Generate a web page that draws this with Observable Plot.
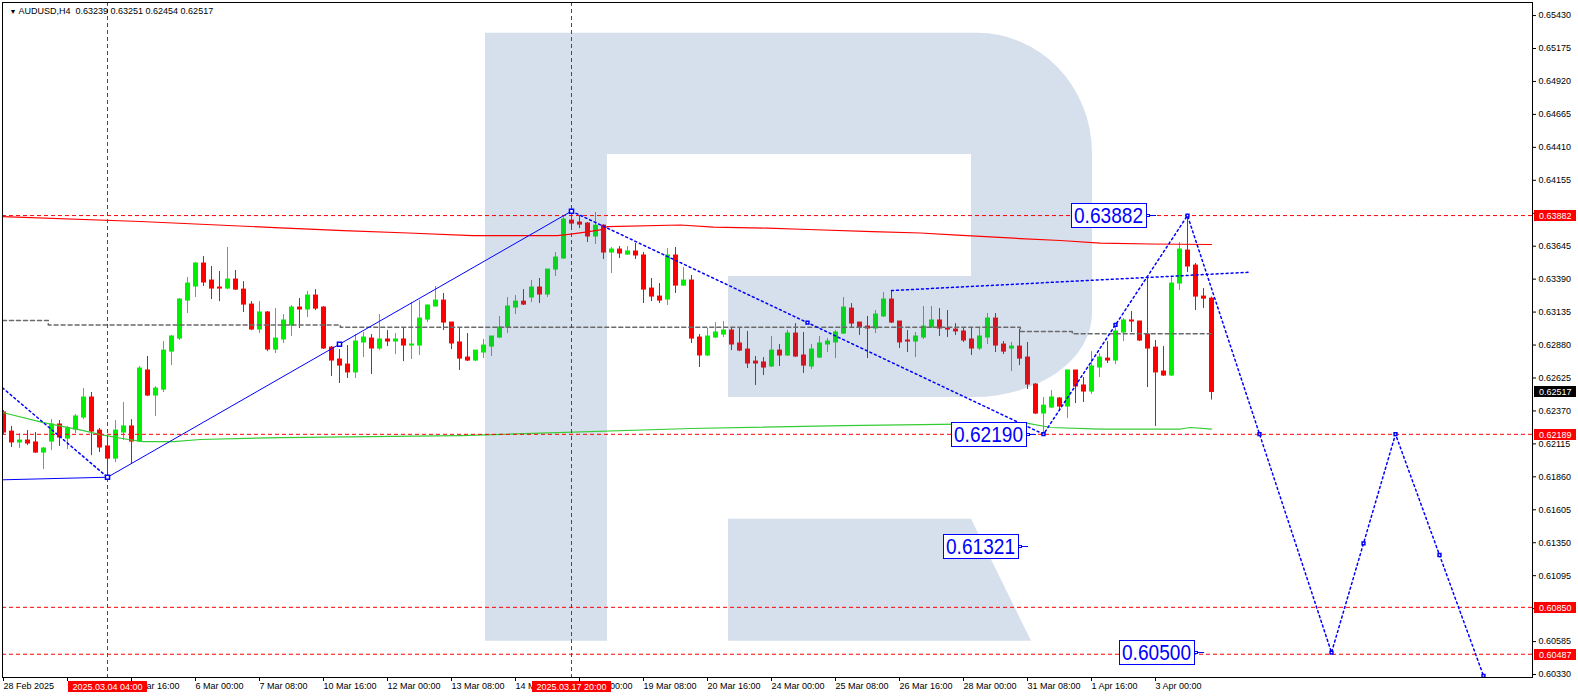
<!DOCTYPE html>
<html><head><meta charset="utf-8">
<script src="https://cdn.jsdelivr.net/npm/d3@7"></script>
<script src="https://cdn.jsdelivr.net/npm/@observablehq/plot@0.6"></script>
<style>body{margin:0;background:#fff} svg{display:block}</style>
</head><body><div id="chart"></div>
<script>
// ---- Candles (AUDUSD H4, bar index 0 = 28 Feb 2025 00:00) ----
const opens = [0.62358,0.62210,0.62126,0.62141,0.62126,0.62048,0.62133,0.62265,0.62156,0.62226,
0.62319,0.62474,0.62218,0.62095,0.62001,0.62203,0.62250,0.62133,0.62683,0.62489,
0.62535,0.62829,0.62930,0.63224,0.63333,0.63511,0.63379,0.63325,0.63317,0.63387,
0.63309,0.63193,0.63000,0.63132,0.62845,0.62923,0.63031,0.63170,0.63155,0.63263,
0.63170,0.62860,0.62768,0.62729,0.62668,0.62900,0.62930,0.62853,0.62923,0.62907,
0.62923,0.62876,0.62876,0.63077,0.63178,0.63224,0.63054,0.62900,0.62783,0.62760,
0.62822,0.62868,0.62938,0.63015,0.63170,0.63216,0.63248,0.63325,0.63271,0.63464,
0.63550,0.63843,0.63828,0.63820,0.63720,0.63804,0.63596,0.63619,0.63580,0.63604,
0.63573,0.63317,0.63255,0.63232,0.63573,0.63340,0.63379,0.62938,0.62799,0.62938,
0.62961,0.62992,0.62892,0.62845,0.62752,0.62745,0.62714,0.62837,0.62799,0.62969,
0.62799,0.62714,0.62783,0.62884,0.62900,0.62969,0.63162,0.63054,0.63023,0.63008,
0.63101,0.63232,0.63062,0.62915,0.62907,0.62938,0.63015,0.63070,0.63008,0.63000,
0.62985,0.62923,0.62853,0.62938,0.63085,0.62884,0.62853,0.62868,0.62783,0.62574,
0.62350,0.62396,0.62466,0.62404,0.62683,0.62567,0.62520,0.62706,0.62775,0.62760,
0.62977,0.63070,0.63062,0.62961,0.62860,0.62675,0.62644,0.63356,0.63611,0.63495,
0.63255,0.63239];
const highs = [0.62373,0.62250,0.62195,0.62218,0.62203,0.62087,0.62303,0.62296,0.62250,0.62342,
0.62543,0.62513,0.62234,0.62179,0.62296,0.62435,0.62303,0.62714,0.62791,0.62559,
0.62907,0.62954,0.63240,0.63403,0.63519,0.63565,0.63488,0.63449,0.63635,0.63457,
0.63371,0.63216,0.63216,0.63139,0.63162,0.63116,0.63186,0.63240,0.63294,0.63309,
0.63178,0.62868,0.62845,0.62876,0.62961,0.62977,0.62961,0.63116,0.62992,0.62969,
0.63008,0.63209,0.63224,0.63186,0.63333,0.63279,0.63054,0.63015,0.62969,0.62837,
0.62923,0.62946,0.63101,0.63248,0.63263,0.63309,0.63379,0.63395,0.63464,0.63596,
0.63882,0.63913,0.63874,0.63828,0.63905,0.63812,0.63635,0.63642,0.63642,0.63666,
0.63596,0.63395,0.63356,0.63627,0.63635,0.63480,0.63418,0.62961,0.63008,0.63054,
0.63062,0.63015,0.63008,0.62985,0.62791,0.62783,0.62946,0.62884,0.62992,0.63046,
0.62977,0.62884,0.62946,0.62930,0.62992,0.63248,0.63201,0.63054,0.63101,0.63147,
0.63286,0.63302,0.63062,0.62992,0.62977,0.63178,0.63178,0.63162,0.63147,0.63046,
0.63015,0.63008,0.63008,0.63124,0.63124,0.62907,0.62900,0.63000,0.62900,0.62582,
0.62474,0.62528,0.62474,0.62683,0.62683,0.62629,0.62829,0.62814,0.62907,0.63015,
0.63085,0.63139,0.63062,0.63403,0.62915,0.62868,0.63403,0.63673,0.63882,0.63511,
0.63317,0.63251];
const lows = [0.62187,0.62087,0.62079,0.62102,0.62040,0.61916,0.62063,0.62095,0.62071,0.62195,
0.62303,0.62024,0.62048,0.61855,0.61971,0.62141,0.61963,0.62126,0.62481,0.62327,
0.62513,0.62721,0.62915,0.63124,0.63248,0.63333,0.63232,0.63216,0.63309,0.63302,
0.63132,0.62992,0.62969,0.62829,0.62814,0.62892,0.62946,0.63008,0.63093,0.63147,
0.62845,0.62637,0.62582,0.62621,0.62621,0.62783,0.62652,0.62837,0.62868,0.62806,
0.62752,0.62768,0.62799,0.63054,0.63178,0.62992,0.62845,0.62683,0.62752,0.62752,
0.62775,0.62791,0.62930,0.62969,0.63116,0.63186,0.63209,0.63201,0.63248,0.63410,
0.63542,0.63781,0.63781,0.63673,0.63658,0.63542,0.63434,0.63550,0.63573,0.63542,
0.63201,0.63216,0.63201,0.63186,0.63279,0.63333,0.62892,0.62706,0.62791,0.62930,
0.62938,0.62837,0.62829,0.62698,0.62567,0.62644,0.62706,0.62714,0.62791,0.62783,
0.62660,0.62691,0.62775,0.62822,0.62775,0.62961,0.63015,0.62954,0.62775,0.62969,
0.63093,0.63046,0.62853,0.62822,0.62783,0.62923,0.63008,0.62946,0.62938,0.62954,
0.62900,0.62799,0.62837,0.62884,0.62822,0.62806,0.62675,0.62721,0.62536,0.62342,
0.62190,0.62388,0.62365,0.62311,0.62427,0.62435,0.62497,0.62629,0.62737,0.62729,
0.62907,0.62977,0.62907,0.62551,0.62250,0.62637,0.62637,0.63302,0.63441,0.63147,
0.63162,0.62454];
const closes = [0.62203,0.62126,0.62141,0.62118,0.62048,0.62079,0.62265,0.62164,0.62234,0.62327,
0.62474,0.62210,0.62087,0.62001,0.62218,0.62250,0.62133,0.62698,0.62489,0.62543,
0.62837,0.62946,0.63232,0.63356,0.63511,0.63364,0.63317,0.63317,0.63387,0.63309,
0.63193,0.63000,0.63132,0.62845,0.62930,0.63070,0.63170,0.63155,0.63263,0.63162,
0.62853,0.62760,0.62721,0.62668,0.62907,0.62938,0.62853,0.62923,0.62907,0.62923,
0.62876,0.62884,0.63085,0.63186,0.63224,0.63054,0.62892,0.62775,0.62760,0.62837,
0.62876,0.62946,0.63015,0.63178,0.63216,0.63193,0.63325,0.63271,0.63464,0.63557,
0.63851,0.63820,0.63812,0.63720,0.63804,0.63596,0.63619,0.63588,0.63604,0.63573,
0.63309,0.63255,0.63224,0.63573,0.63340,0.63379,0.62930,0.62799,0.62946,0.62977,
0.62992,0.62884,0.62837,0.62737,0.62737,0.62706,0.62837,0.62799,0.62969,0.62791,
0.62721,0.62845,0.62892,0.62907,0.62977,0.63170,0.63046,0.63015,0.63008,0.63116,
0.63232,0.63054,0.62900,0.62907,0.62946,0.63023,0.63070,0.63008,0.63000,0.62985,
0.62915,0.62853,0.62946,0.63085,0.62876,0.62829,0.62868,0.62775,0.62574,0.62350,
0.62411,0.62474,0.62404,0.62683,0.62559,0.62520,0.62714,0.62783,0.62760,0.62985,
0.63070,0.63062,0.62915,0.62853,0.62668,0.62644,0.63356,0.63619,0.63488,0.63255,
0.63239,0.62517];

// ---- Axis ticks ----
const xTickIndex = [0,8,16,24,32,40,48,56,64,72,80,88,96,104,112,120,128,136,144];
const xTickLabels = ["28 Feb 2025","","4 Mar 16:00","6 Mar 00:00","7 Mar 08:00","10 Mar 16:00",
 "12 Mar 00:00","13 Mar 08:00","14 Mar 16:00","18 Mar 00:00","19 Mar 08:00","20 Mar 16:00","24 Mar 00:00",
 "25 Mar 08:00","26 Mar 16:00","28 Mar 00:00","31 Mar 08:00","1 Apr 16:00","3 Apr 00:00"];
const yTicks = [0.65430,0.65175,0.64920,0.64665,0.64410,0.64155,0.63900,0.63645,0.63390,0.63135,0.62880,
 0.62625,0.62370,0.62115,0.61860,0.61605,0.61350,0.61095,0.60840,0.60585,0.60330];

// ---- Indicator lines [bar index, price] ----
const redMA = [[-0.125,0.63874],[17.1,0.63836],[34.6,0.63787],[42.5,0.63766],[50.6,0.63747],[58.6,0.63727],
 [69.25,0.63727],[70.9,0.63739],[72.75,0.63754],[74.6,0.63771],[75.5,0.63797],[84.6,0.63809],[88.75,0.63793],
 [95.5,0.63785],[100.6,0.63774],[108.6,0.63758],[114.6,0.63747],[119.25,0.63731],[127.1,0.63704],
 [132.1,0.63689],[137.1,0.63669],[143.4,0.63662],[151,0.63658]];
const greenMA = [[-0.125,0.62358],[5,0.62280],[10,0.62218],[12.1,0.62187],[15.6,0.62149],[17.5,0.62133],
 [21.25,0.62133],[24.6,0.62149],[34.6,0.62164],[57.1,0.62179],[85.9,0.62234],[105,0.62257],[127.9,0.62275],
 [130.9,0.62242],[137.1,0.62230],[147.1,0.62230],[148.4,0.62242],[151,0.62230]];
const greyLevel = [[-0.125,0.63070],[5.6,0.63070],[5.6,0.63036],[42.1,0.63036],[42.1,0.63018],[127.1,0.63018],
 [127.1,0.62984],[133.6,0.62984],[133.6,0.62967],[151,0.62967]];

// ---- Drawing objects ----
const hLevels = [0.63882, 0.62189, 0.60850, 0.60487];
const vLines = [13, 71];
const zigzag = [[-0.125,0.61837],[13,0.61857],[71,0.63916]];
const zigzagMarks = [[13,0.61857],[42,0.628865],[71,0.63916]];
const dottedLeft = [[-0.125,0.62549],[13,0.61857]];
const projection = [[71,0.63916],[130,0.62190],[148,0.63882],[166,0.60500],[174,0.62190],[185,0.60320]];
const projectionMarks = [[100.5,0.63053],[130,0.62190],[139,0.63036],[148,0.63882],[157,0.62191],
 [166,0.60500],[170,0.61345],[174,0.62190],[179.5,0.61255],[185,0.60320]];
const trendHighs = [[111,0.63302],[143,0.63403],[155.6,0.63443]];
const boxLabels = [
 {text:"0.63882", i:144, price:0.63882},
 {text:"0.62190", i:129, price:0.62190},
 {text:"0.61321", i:128, price:0.61321},
 {text:"0.60500", i:150, price:0.60500}];
const axisTags = [
 {price:0.63882, text:"0.63882", bg:"#ff0000"},
 {price:0.62517, text:"0.62517", bg:"#000000"},
 {price:0.62189, text:"0.62189", bg:"#ff0000"},
 {price:0.60850, text:"0.60850", bg:"#ff0000"},
 {price:0.60487, text:"0.60487", bg:"#ff0000"}];
const dateTags = [{i:13, text:"2025.03.04 04:00"},{i:71, text:"2025.03.17 20:00"}];
const title = "AUDUSD,H4  0.63239 0.63251 0.62454 0.62517";
// watermark outline in [bar index, price]; "A" = quarter arc
const logoPath = [
 ["M",60.25,0.65293],["L",121.75,0.65293],["A",136.125,0.64362],["L",136.125,0.63124],
 ["A",121.25,0.62474],["L",90.625,0.62474],["L",90.625,0.63410],["L",121.0,0.63410],
 ["L",121.0,0.64354],["L",75.5,0.64354],["L",75.5,0.60588],["L",60.25,0.60588],["Z"],
 ["M",90.625,0.61532],["L",121.0,0.61532],["L",128.5,0.60588],["L",90.625,0.60588],["Z"]];

const candles = opens.map((o, i) => ({i, open: o, high: highs[i], low: lows[i], close: closes[i]}));
const GREEN = "#00ee00", RED = "#ff0000", BLUE = "#0000ff";
const FONT = "'Liberation Sans', Arial, sans-serif";
const col = d => d.close > d.open ? GREEN : RED;

function logoMark(index, {x, y}) {
  let d = "", px = 0, py = 0;
  for (const c of logoPath) {
    if (c[0] === "Z") { d += "Z"; continue; }
    const X = x(c[1]), Y = y(c[2]);
    if (c[0] === "A") d += `A${Math.abs(X - px)},${Math.abs(Y - py)} 0 0 1 ${X},${Y}`;
    else d += `${c[0]}${X},${Y}`;
    px = X; py = Y;
  }
  const p = document.createElementNS("http://www.w3.org/2000/svg", "path");
  p.setAttribute("d", d); p.setAttribute("fill", "#3464a2"); p.setAttribute("fill-opacity", "0.2");
  return p;
}
function boxLabelMark(index, {x, y}) {
  const g = d3.create("svg:g");
  for (const b of boxLabels) {
    const ax = Math.round(x(b.i)), ay = Math.round(y(b.price));
    const right = ax - 9;
    g.append("line").attr("x1", right).attr("x2", ax + 1).attr("y1", ay + 0.5).attr("y2", ay + 0.5).attr("stroke", BLUE);
    g.append("rect").attr("x", right - 75 + 0.5).attr("y", ay - 12 + 0.5).attr("width", 75).attr("height", 24)
      .attr("fill", "white").attr("stroke", BLUE);
    g.append("rect").attr("x", right + 0.5).attr("y", ay - 1 + 0.5).attr("width", 3).attr("height", 2)
      .attr("fill", "white").attr("stroke", BLUE);
    g.append("text").attr("x", right - 72).attr("y", ay + 8).attr("font-size", 22).attr("font-family", FONT)
      .attr("text-anchor", "start").attr("fill", BLUE)
      .attr("textLength", 69).attr("lengthAdjust", "spacingAndGlyphs").text(b.text);
  }
  return g.node();
}
function axisTagMark(index, {x, y}, values, dims) {
  const g = d3.create("svg:g");
  const left = dims.width - dims.marginRight + 2;
  for (const t of axisTags) {
    const ty = Math.round(y(t.price));
    g.append("rect").attr("x", left).attr("y", ty - 5).attr("width", 42).attr("height", 11).attr("fill", t.bg);
    g.append("text").attr("x", left + 5).attr("y", ty + 3.5).attr("font-size", 9).attr("font-family", FONT)
      .attr("text-anchor", "start").attr("fill", "white").text(t.text);
  }
  return g.node();
}
function dateTagMark(index, {x, y}, values, dims) {
  const g = d3.create("svg:g");
  const top = dims.height - dims.marginBottom + 4;
  for (const t of dateTags) {
    const tx = Math.round(x(t.i));
    g.append("rect").attr("x", tx - 39).attr("y", top).attr("width", 79).attr("height", 11).attr("fill", "#ff0000");
    g.append("text").attr("x", tx + 0.5).attr("y", top + 8.5).attr("text-anchor", "middle").attr("font-size", 9)
      .attr("font-family", FONT).attr("fill", "white").text(t.text);
  }
  return g.node();
}

const chart = Plot.plot({
  width: 1578, height: 698,
  marginTop: 2, marginLeft: 2, marginRight: 46, marginBottom: 21,
  style: {fontFamily: FONT, fontSize: "9px", background: "white", color: "black"},
  x: {type: "linear", domain: [-0.125, 191.125], axis: null},
  y: {type: "linear", domain: [0.60307, 0.65531], axis: null},
  marks: [
    Plot.ruleX(candles, {x: "i", y1: "high", y2: "low", stroke: col, strokeWidth: 1, clip: true}),
    Plot.ruleX(candles, {x: "i", y1: d => Math.max(d.open, d.close), y2: d => Math.min(d.open, d.close),
      stroke: col, strokeWidth: 5, insetTop: -0.5, insetBottom: -0.5, clip: true}),
    logoMark,
    Plot.line(redMA, {x: d => d[0], y: d => d[1], stroke: "#ff0000", strokeWidth: 1.2, clip: true}),
    Plot.line(greenMA, {x: d => d[0], y: d => d[1], stroke: "#33cc33", strokeWidth: 1.2, clip: true}),
    Plot.line(greyLevel, {x: d => d[0], y: d => d[1], stroke: "#6a6a6a", strokeDasharray: "4,3", clip: true}),
    Plot.ruleY(hLevels, {stroke: "#ff0000", strokeDasharray: "4,3"}),
    Plot.ruleX(vLines, {stroke: "#ff0000", strokeDasharray: "4,3"}),
    Plot.line(zigzag, {x: d => d[0], y: d => d[1], stroke: BLUE, strokeWidth: 1, clip: true}),
    Plot.line(dottedLeft, {x: d => d[0], y: d => d[1], stroke: BLUE, strokeDasharray: "2,3", clip: true}),
    Plot.line(projection, {x: d => d[0], y: d => d[1], stroke: BLUE, strokeDasharray: "2,3", clip: true}),
    Plot.line(trendHighs, {x: d => d[0], y: d => d[1], stroke: BLUE, strokeDasharray: "2,3", clip: true}),
    Plot.dot(zigzagMarks, {x: d => d[0], y: d => d[1], symbol: "square", r: 2.3, stroke: BLUE, fill: "white"}),
    Plot.dot(projectionMarks, {x: d => d[0], y: d => d[1], symbol: "square", r: 1.6, stroke: BLUE, fill: "white", clip: true}),
    boxLabelMark,
    Plot.frame({stroke: "black"}),
    Plot.axisY({anchor: "right", ticks: yTicks, tickFormat: d3.format(".5f"), tickSize: 3, tickPadding: 3,
      fontSize: 9, label: null}),
    Plot.axisX({anchor: "bottom", ticks: xTickIndex, tickFormat: i => xTickLabels[xTickIndex.indexOf(i)],
      tickSize: 4, tickPadding: 1, textAnchor: "start", fontSize: 9, label: null}),
    axisTagMark,
    dateTagMark,
    Plot.text([title], {text: d => d, frameAnchor: "top-left", dx: 16, dy: 9, textAnchor: "start",
      lineAnchor: "middle", fontSize: 9, fill: "black"}),
    Plot.text(["\u25BC"], {text: d => d, frameAnchor: "top-left", dx: 7, dy: 9, lineAnchor: "middle",
      fontSize: 7, fill: "black"})
  ]
});
document.getElementById("chart").append(chart);
</script>
</body></html>
